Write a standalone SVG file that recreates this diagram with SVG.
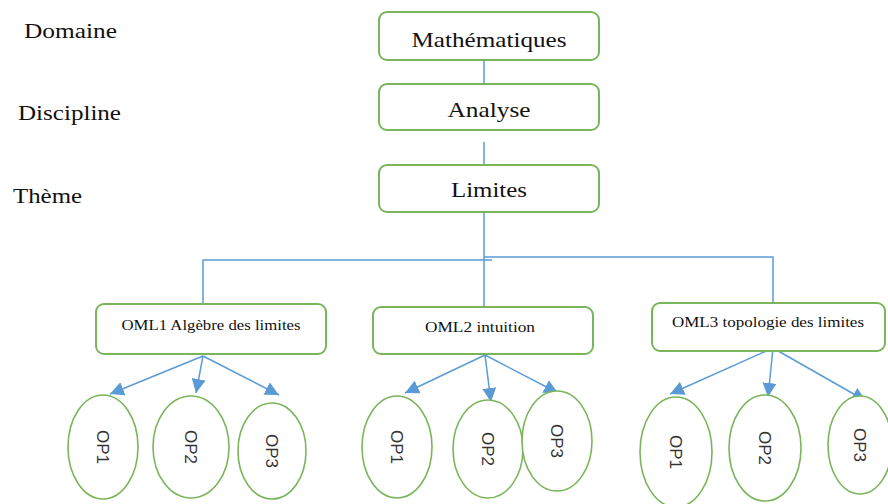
<svg xmlns="http://www.w3.org/2000/svg" width="888" height="504" viewBox="0 0 888 504">
<defs>
<style>
.box{fill:#fff;stroke:#7ab55c;stroke-width:2}
.ell{fill:#fff;stroke:#7ab55c;stroke-width:1.6}
.con{fill:none;stroke:#5b9bd5;stroke-width:1.5}
.lbl{font-family:"Liberation Serif","Times New Roman",serif;font-size:21px;fill:#111}
.t1{font-family:"Liberation Serif","Times New Roman",serif;font-size:21px;fill:#111;text-anchor:middle}
.t2{font-family:"Liberation Serif","Times New Roman",serif;font-size:14px;fill:#111;text-anchor:middle}
.op{font-family:"Liberation Sans",Arial,sans-serif;font-size:17px;fill:#333;text-anchor:middle}
</style>
<marker id="ah" viewBox="0 0 10 10" refX="9" refY="5" markerWidth="5" markerHeight="5" orient="auto" markerUnits="userSpaceOnUse" >
<path d="M0,0 L10,5 L0,10 z" fill="#5b9bd5"/>
</marker>
<marker id="a" viewBox="0 0 10 10" refX="10" refY="5" markerWidth="14" markerHeight="14" orient="auto" markerUnits="userSpaceOnUse">
<path d="M0,0 L10,5 L0,10 z" fill="#5b9bd5"/>
</marker>
</defs>
<g id="labels">
<text class="lbl" x="24" y="38" textLength="93" lengthAdjust="spacingAndGlyphs">Domaine</text>
<text class="lbl" x="18" y="120" textLength="103" lengthAdjust="spacingAndGlyphs">Discipline</text>
<text class="lbl" x="13" y="203" textLength="69" lengthAdjust="spacingAndGlyphs">Thème</text>
</g>
<g id="connectors">
<path class="con" d="M484,60 V84"/>
<path class="con" d="M484,142 V165"/>
<path class="con" d="M484,212 V307"/>
<path class="con" d="M203,305 V260 H492"/>
<path class="con" d="M484,257 H773 V303"/>
<path class="con" marker-end="url(#a)" d="M203,356 L110,394"/>
<path class="con" marker-end="url(#a)" d="M203,356 L196,393"/>
<path class="con" marker-end="url(#a)" d="M203,356 L279,395"/>
<path class="con" marker-end="url(#a)" d="M485,355 L405,393"/>
<path class="con" marker-end="url(#a)" d="M485,355 L491,402"/>
<path class="con" marker-end="url(#a)" d="M485,355 L558,393"/>
<path class="con" marker-end="url(#a)" d="M773,348 L670,394"/>
<path class="con" marker-end="url(#a)" d="M773,348 L768,397"/>
<path class="con" marker-end="url(#a)" d="M773,348 L866,401"/>
</g>
<g id="n-math"><rect class="box" x="379" y="12" width="220" height="48" rx="8"/><text class="t1" x="489" y="47" textLength="155" lengthAdjust="spacingAndGlyphs">Mathématiques</text></g>
<g id="n-analyse"><rect class="box" x="379" y="84" width="220" height="46" rx="8"/><text class="t1" x="489" y="117" textLength="83" lengthAdjust="spacingAndGlyphs">Analyse</text></g>
<g id="n-limites"><rect class="box" x="379" y="165" width="220" height="47" rx="8"/><text class="t1" x="489" y="197" textLength="76" lengthAdjust="spacingAndGlyphs">Limites</text></g>
<g id="n-oml1"><rect class="box" x="96" y="304" width="230" height="50" rx="8"/><text class="t2" x="211" y="330" textLength="179" lengthAdjust="spacingAndGlyphs">OML1 Algèbre des limites</text></g>
<g id="n-oml2"><rect class="box" x="373" y="307" width="220" height="47" rx="8"/><text class="t2" x="480" y="332" textLength="110" lengthAdjust="spacingAndGlyphs">OML2 intuition</text></g>
<g id="n-oml3"><rect class="box" x="652" y="303" width="233" height="48" rx="8"/><text class="t2" x="768" y="327" textLength="192" lengthAdjust="spacingAndGlyphs">OML3 topologie des limites</text></g>
<g id="n-op1a"><ellipse class="ell" cx="103" cy="447" rx="35" ry="52"/><text class="op" transform="translate(103,447) rotate(90)" y="6">OP1</text></g>
<g id="n-op2a"><ellipse class="ell" cx="191" cy="447" rx="38" ry="51"/><text class="op" transform="translate(191,447) rotate(90)" y="6">OP2</text></g>
<g id="n-op3a"><ellipse class="ell" cx="272" cy="451" rx="34" ry="48"/><text class="op" transform="translate(272,451) rotate(90)" y="6">OP3</text></g>
<g id="n-op1b"><ellipse class="ell" cx="397" cy="447" rx="35" ry="51"/><text class="op" transform="translate(397,447) rotate(90)" y="6">OP1</text></g>
<g id="n-op2b"><ellipse class="ell" cx="488" cy="449" rx="35" ry="49"/><text class="op" transform="translate(488,449) rotate(90)" y="6">OP2</text></g>
<g id="n-op3b"><ellipse class="ell" cx="557" cy="441" rx="35" ry="50"/><text class="op" transform="translate(557,441) rotate(90)" y="6">OP3</text></g>
<g id="n-op1c"><ellipse class="ell" cx="676" cy="452" rx="36" ry="55"/><text class="op" transform="translate(676,452) rotate(90)" y="6">OP1</text></g>
<g id="n-op2c"><ellipse class="ell" cx="765" cy="448" rx="36" ry="53"/><text class="op" transform="translate(765,448) rotate(90)" y="6">OP2</text></g>
<g id="n-op3c"><ellipse class="ell" cx="860" cy="445" rx="32" ry="49"/><text class="op" transform="translate(860,445) rotate(90)" y="6">OP3</text></g>
</svg>
